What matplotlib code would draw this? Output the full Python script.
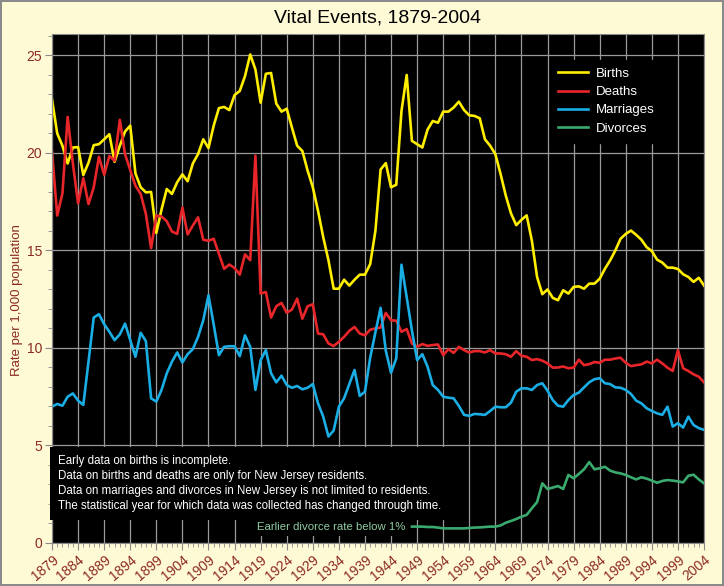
import matplotlib
matplotlib.use('Agg')
import matplotlib.pyplot as plt
from matplotlib.ticker import MultipleLocator

plt.rcParams['font.family'] = ['Liberation Sans', 'DejaVu Sans']

years = list(range(1879, 2005))
div_years = list(range(1948, 2005))

births = [22.75, 21.0, 20.37, 19.46, 20.28, 20.3, 18.87, 19.5, 20.4, 20.45,
          20.7, 20.96, 19.55, 20.37, 21.1, 21.4, 18.95, 18.24, 17.98, 18.0,
          15.9, 17.1, 18.15, 17.9, 18.5, 18.9, 18.55, 19.46, 19.94, 20.7,
          20.25, 21.4, 22.3, 22.36, 22.2, 22.97, 23.18, 23.94, 25.05, 24.28,
          22.58, 24.06, 24.1, 22.53, 22.12, 22.27, 21.3, 20.37, 20.1, 19.1,
          18.24, 17.04, 15.68, 14.5, 13.04, 13.04, 13.5, 13.2, 13.5, 13.76,
          13.76, 14.3, 16.0, 19.15, 19.48, 18.24, 18.37, 22.15, 24.0, 20.62,
          20.45, 20.28, 21.2, 21.64, 21.55, 22.12, 22.12, 22.33, 22.63, 22.2,
          21.93, 21.9, 21.78, 20.7, 20.37, 19.94, 18.92, 17.81, 16.9, 16.3,
          16.57, 16.8, 15.5, 13.64, 12.76, 13.0, 12.57, 12.45, 12.96, 12.79,
          13.13, 13.16, 13.04, 13.3, 13.3, 13.55, 14.06, 14.49, 15.0, 15.6,
          15.85, 16.02, 15.8, 15.55, 15.17, 14.97, 14.53, 14.38, 14.12, 14.12,
          14.05, 13.78, 13.64, 13.39, 13.6, 13.2]

deaths = [20.08, 16.79, 17.93, 21.85, 19.46, 17.42, 18.71, 17.38, 18.24, 19.8,
          18.88, 19.85, 19.6, 21.7, 19.94, 19.12, 18.32, 17.9, 16.87, 15.12,
          16.79, 16.74, 16.5, 15.97, 15.85, 17.2, 15.82, 16.28, 16.7, 15.55,
          15.5, 15.6,
          14.83, 14.06, 14.28, 14.1, 13.76, 14.8, 14.5, 19.86, 12.79, 12.87,
          11.56, 12.14, 12.31, 11.81, 11.97, 12.53, 11.5, 12.14, 12.24, 10.74,
          10.7, 10.23, 10.1, 10.32, 10.57, 10.88, 11.08, 10.74, 10.65, 10.94,
          11.0,
          11.05, 11.8, 11.42, 11.4, 10.83, 10.97, 10.23, 10.06, 10.2, 10.11,
          10.15, 10.18, 9.63, 9.94, 9.75, 10.06, 9.89, 9.77, 9.84, 9.84,
          9.77, 9.89, 9.72, 9.72, 9.68, 9.55, 9.84, 9.6, 9.55, 9.38, 9.43,
          9.35, 9.21, 8.99, 9.0, 9.05, 8.96, 8.99, 9.4, 9.12, 9.17,
          9.28, 9.24, 9.4, 9.4, 9.46, 9.5, 9.24, 9.07, 9.12, 9.16,
          9.3, 9.21, 9.4, 9.21, 8.99, 8.82, 9.89, 8.96, 8.82, 8.65,
          8.53, 8.24]

marriages = [6.99, 7.13, 7.04, 7.5, 7.67, 7.3, 7.08, 9.3, 11.56, 11.73,
             11.22, 10.83, 10.4, 10.7, 11.25, 10.4, 9.55, 10.78, 10.35, 7.42,
             7.25, 7.85, 8.7, 9.3, 9.77, 9.26, 9.68, 9.94, 10.57, 11.42,
             12.7, 11.2,
             9.63, 10.06, 10.09, 10.09, 9.58, 10.65, 10.06, 7.85, 9.38, 9.89,
             8.7, 8.24, 8.58, 8.1, 7.96, 8.05, 7.88, 7.96, 8.15, 7.16,
             6.48, 5.46, 5.77, 6.99, 7.42, 8.15, 8.87, 7.54, 7.76, 9.5,
             10.8,
             12.06, 9.85, 8.73, 9.46, 14.27, 12.6, 10.9, 9.38, 9.68, 9.04,
             8.1, 7.85, 7.5, 7.45, 7.42, 7.03, 6.57, 6.52, 6.62, 6.6,
             6.57, 6.77, 6.99, 6.96, 6.96, 7.2, 7.76, 7.93, 7.93, 7.85, 8.1,
             8.19, 7.81, 7.33, 7.04, 6.99, 7.33, 7.59, 7.71, 7.98, 8.24,
             8.4, 8.45, 8.19, 8.15, 7.98, 7.96, 7.85, 7.64, 7.3, 7.16,
             6.91, 6.77, 6.65, 6.57, 6.99, 5.97, 6.14, 5.92, 6.48, 6.05,
             5.89, 5.8]

divorces = [0.84, 0.84, 0.84, 0.82, 0.82, 0.79, 0.75, 0.75, 0.75, 0.75,
            0.75, 0.77, 0.79, 0.8, 0.82, 0.84, 0.84,
            0.9, 1.04, 1.13, 1.23, 1.35, 1.44, 1.78, 2.1, 3.06, 2.77,
            2.84, 2.92, 2.77, 3.49, 3.32, 3.54, 3.78, 4.15, 3.78, 3.83,
            3.91, 3.71, 3.62, 3.57, 3.49, 3.37, 3.26, 3.37, 3.3, 3.2,
            3.09, 3.18, 3.23, 3.2, 3.16, 3.11, 3.45, 3.5, 3.26, 3.06]

notes = ("Early data on births is incomplete.\n"
         "Data on births and deaths are only for New Jersey residents.\n"
         "Data on marriages and divorces in New Jersey is not limited to residents.\n"
         "The statistical year for which data was collected has changed through time.")

bg = '#FFFAD6'
tick_red = '#8B2A22'

fig = plt.figure(figsize=(7.24, 5.86), dpi=100, facecolor=bg,
                 edgecolor='#8a8a8a', linewidth=1.5)
ax = fig.add_axes([52/724, 43/586, 652/724, 509/586])
ax.set_facecolor('black')

ax.plot(years, births, color='#FFEE00', lw=1.9, label='Births')
ax.plot(years, deaths, color='#E8262A', lw=1.9, label='Deaths')
ax.plot(years, marriages, color='#1AAEE5', lw=1.9, label='Marriages')
ax.plot(div_years, divorces, color='#3AAA6E', lw=1.9, label='Divorces')

ax.set_xlim(1879, 2004)
ax.set_ylim(0, 26.1)

ax.set_xticks(list(range(1879, 2005, 5)))
ax.xaxis.set_minor_locator(MultipleLocator(1))
ax.yaxis.set_major_locator(MultipleLocator(5))
ax.yaxis.set_minor_locator(MultipleLocator(1))
ax.grid(True, which='major', color='#9a9a9a', lw=0.9)
ax.set_axisbelow(True)

for lab in ax.get_xticklabels():
    lab.set_rotation(40)
    lab.set_ha('right')
    lab.set_rotation_mode('anchor')
ax.tick_params(axis='both', which='major', colors='#8a8a8a', labelcolor=tick_red,
               labelsize=10, length=5)
ax.tick_params(axis='both', which='minor', colors='#8a8a8a', length=3)
ax.tick_params(axis='x', which='major', pad=2)
ax.tick_params(axis='y', which='major', pad=2)
for s in ax.spines.values():
    s.set_color('#8a8a8a')

ax.set_ylabel('Rate per 1,000 population', color=tick_red, fontsize=9.5)
ax.yaxis.set_label_coords(-0.045, 0.477)
ax.set_title('Vital Events, 1879-2004', fontsize=14, pad=8)

leg = ax.legend(loc='upper right', bbox_to_anchor=(0.947, 0.962), facecolor='black',
                edgecolor='black', framealpha=1, fancybox=False, labelcolor='white',
                fontsize=9.5, handlelength=2.3, handletextpad=0.6, labelspacing=0.45,
                borderpad=0.6)

ax.text(0.009, 0.172, notes, transform=ax.transAxes, color='white', fontsize=8.3,
        va='top', ha='left', linespacing=1.3,
        bbox=dict(facecolor='black', edgecolor='none', pad=6))
ax.text(1946.8, 0.84, 'Earlier divorce rate below 1%', color='#8ECDA2', fontsize=8.2,
        ha='right', va='center',
        bbox=dict(facecolor='black', edgecolor='none', pad=3))

fig.savefig('out.png', dpi=100, facecolor=fig.get_facecolor(),
            edgecolor=fig.get_edgecolor())
